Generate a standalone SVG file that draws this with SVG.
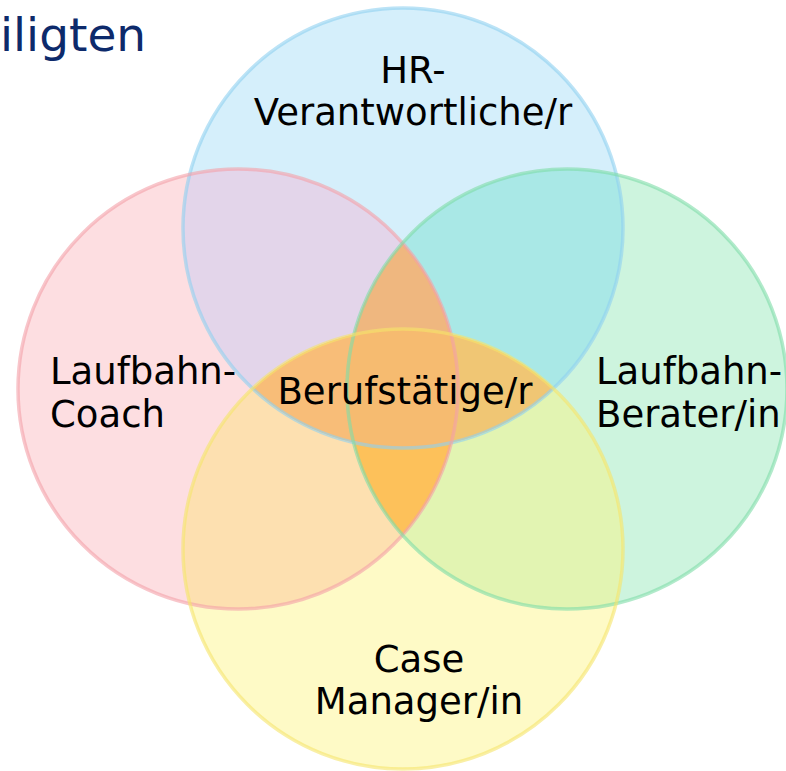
<svg xmlns="http://www.w3.org/2000/svg" width="786" height="771" viewBox="0 0 786 771">
<style>
.lbl{font-family:"DejaVu Sans","Liberation Sans",sans-serif;font-size:37px;fill:#000}
.ttl{font-family:"DejaVu Sans","Liberation Sans",sans-serif;font-size:47px;fill:#0d2a6b}
.stk{fill:none;stroke-width:3.5;stroke-opacity:0.6}
</style>
<defs>
<clipPath id="cB"><circle cx="403" cy="228" r="220"/></clipPath>
<clipPath id="cR"><circle cx="238" cy="389" r="220"/></clipPath>
<clipPath id="cG"><circle cx="567" cy="389" r="220"/></clipPath>
<clipPath id="cY"><circle cx="403" cy="549" r="220"/></clipPath>
</defs>
<rect width="786" height="771" fill="#ffffff"/>
<text class="ttl" x="0" y="51">iligten</text>
<g id="fills">
<circle cx="403" cy="228" r="220" fill="#d5effb"/>
<circle cx="238" cy="389" r="220" fill="#fddee1"/>
<circle cx="567" cy="389" r="220" fill="#cdf4de"/>
<circle cx="403" cy="549" r="220" fill="#fefac6"/>
<g clip-path="url(#cB)"><circle cx="238" cy="389" r="220" fill="#e3d5ea"/></g>
<g clip-path="url(#cB)"><circle cx="567" cy="389" r="220" fill="#a9e8e6"/></g>
<g clip-path="url(#cR)"><circle cx="403" cy="549" r="220" fill="#fde0b0"/></g>
<g clip-path="url(#cG)"><circle cx="403" cy="549" r="220" fill="#e2f4b2"/></g>
<g clip-path="url(#cR)"><circle cx="567" cy="389" r="220" fill="#efb77f"/></g>
<g clip-path="url(#cB)"><circle cx="403" cy="549" r="220" fill="#f6bb70"/></g>
<g clip-path="url(#cB)"><g clip-path="url(#cR)"><circle cx="567" cy="389" r="220" fill="#efb77f"/></g></g>
<g clip-path="url(#cR)"><g clip-path="url(#cG)"><circle cx="403" cy="549" r="220" fill="#fdc15a"/></g></g>
<g clip-path="url(#cB)"><g clip-path="url(#cR)"><circle cx="403" cy="549" r="220" fill="#f8bd78"/></g></g>
<g clip-path="url(#cB)"><g clip-path="url(#cG)"><circle cx="403" cy="549" r="220" fill="#f0c674"/></g></g>
<g clip-path="url(#cB)"><g clip-path="url(#cR)"><g clip-path="url(#cG)"><circle cx="403" cy="549" r="220" fill="#f6bb70"/></g></g></g>
</g>
<g id="node-hr">
<circle class="stk" cx="403" cy="228" r="220" stroke="#8fd0f0"/>
<text class="lbl" x="413" y="83" text-anchor="middle">HR-</text>
<text class="lbl" x="413" y="125" text-anchor="middle">Verantwortliche/r</text>
</g>
<g id="node-coach">
<circle class="stk" cx="238" cy="389" r="220" stroke="#f3a0a8"/>
<text class="lbl" x="50" y="384">Laufbahn-</text>
<text class="lbl" x="50" y="427">Coach</text>
</g>
<g id="node-berater">
<circle class="stk" cx="567" cy="389" r="220" stroke="#7fdca8"/>
<text class="lbl" x="596" y="384">Laufbahn-</text>
<text class="lbl" x="596" y="427">Berater/in</text>
</g>
<g id="node-case">
<circle class="stk" cx="403" cy="549" r="220" stroke="#f5e56a"/>
<text class="lbl" x="419" y="672" text-anchor="middle">Case</text>
<text class="lbl" x="419" y="714" text-anchor="middle">Manager/in</text>
</g>
<g id="node-center">
<text class="lbl" x="405" y="404" text-anchor="middle">Berufstätige/r</text>
</g>
<g id="connectors"></g>
</svg>
